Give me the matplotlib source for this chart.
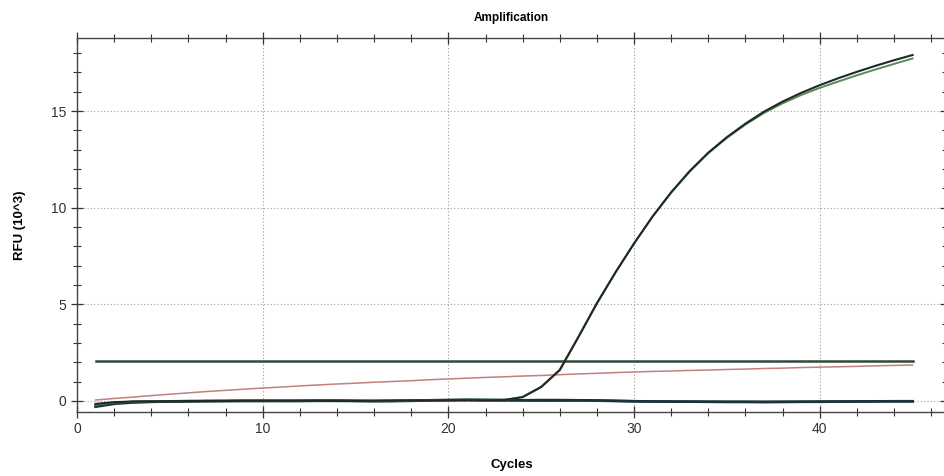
import matplotlib
matplotlib.use("Agg")
import matplotlib.pyplot as plt
from matplotlib.ticker import MultipleLocator

plt.rcParams['font.family'] = ['Liberation Sans', 'DejaVu Sans']

# dati (RFU in migliaia)
cicli = list(range(1, 46))

campione_a = [-0.15, -0.06, -0.03, -0.02, -0.01, 0.0, 0.0, 0.0, 0.01, 0.01,
              0.01, 0.01, 0.01, 0.0, 0.0, 0.01, 0.02, 0.03, 0.03, 0.04,
              0.04, 0.03, 0.05, 0.2, 0.72, 1.6, 3.3, 5.05, 6.65, 8.15,
              9.55, 10.8, 11.9, 12.85, 13.65, 14.35, 14.97, 15.49, 15.94, 16.34,
              16.7, 17.03, 17.34, 17.63, 17.9]
campione_b = [-0.2, -0.08, -0.04, -0.02, -0.01, 0.0, 0.0, 0.0, 0.01, 0.01,
              0.01, 0.01, 0.01, 0.0, 0.0, 0.01, 0.02, 0.03, 0.03, 0.04,
              0.04, 0.03, 0.05, 0.21, 0.74, 1.62, 3.32, 5.07, 6.66, 8.15,
              9.54, 10.78, 11.87, 12.82, 13.61, 14.3, 14.9, 15.4, 15.83, 16.2,
              16.53, 16.85, 17.15, 17.44, 17.72]
negativo_1 = [-0.3, -0.15, -0.08, -0.05, -0.03, -0.02, -0.01, 0.0, 0.0, 0.0,
              0.01, 0.01, 0.02, 0.02, 0.01, 0.0, 0.0, 0.02, 0.04, 0.05,
              0.05, 0.04, 0.03, 0.04, 0.05, 0.05, 0.04, 0.03, 0.01, -0.01,
              -0.02, -0.03, -0.04, -0.04, -0.05, -0.05, -0.05, -0.04, -0.04, -0.03,
              -0.03, -0.02, -0.02, -0.01, -0.01]
negativo_2 = [-0.22, -0.1, -0.05, -0.03, -0.02, -0.01, 0.0, 0.0, 0.01, 0.01,
              0.0, 0.0, 0.01, 0.01, 0.0, -0.01, 0.0, 0.01, 0.03, 0.04,
              0.06, 0.06, 0.05, 0.03, 0.02, 0.02, 0.03, 0.02, 0.0, -0.02,
              -0.03, -0.03, -0.03, -0.04, -0.04, -0.04, -0.05, -0.05, -0.04, -0.04,
              -0.03, -0.03, -0.02, -0.02, -0.02]
deriva = [0.05, 0.13, 0.2, 0.28, 0.35, 0.42, 0.49, 0.55, 0.61, 0.67,
          0.72, 0.78, 0.83, 0.88, 0.92, 0.97, 1.01, 1.05, 1.1, 1.14,
          1.18, 1.22, 1.25, 1.29, 1.32, 1.36, 1.4, 1.43, 1.47, 1.5,
          1.53, 1.55, 1.58, 1.6, 1.63, 1.65, 1.68, 1.7, 1.73, 1.75,
          1.77, 1.79, 1.82, 1.84, 1.86]
soglia = 2.05

fig = plt.figure(figsize=(9.45, 4.76), dpi=100)
ax = fig.add_axes([77 / 945, 1 - 412 / 476, 869 / 945, 374 / 476])

ax.plot(cicli, deriva, color='#c47f7f', lw=1.1, zorder=3)
ax.plot(cicli, negativo_2, color='#2a4c50', lw=2.0, zorder=3)
ax.plot(cicli, negativo_1, color='#1c3238', lw=1.8, zorder=3)
ax.plot([cicli[0], cicli[-1]], [soglia, soglia], color='#2f4a38', lw=1.8, zorder=4)
ax.plot(cicli, campione_b, color='#5a8a5a', lw=1.4, zorder=4, solid_joinstyle='round')
ax.plot(cicli, campione_a, color='#1e2a22', lw=1.5, zorder=5, solid_joinstyle='round')

ax.set_xlim(0, 46.8)
ax.set_ylim(-0.57, 18.78)
ax.xaxis.set_major_locator(MultipleLocator(10))
ax.xaxis.set_minor_locator(MultipleLocator(2))
ax.yaxis.set_major_locator(MultipleLocator(5))
ax.yaxis.set_minor_locator(MultipleLocator(1))
ax.tick_params(which='both', direction='inout', top=True, right=True,
               color='#333333', labelsize=10, labelcolor='#333333')
ax.tick_params(which='major', length=8, width=0.9)
ax.tick_params(which='minor', length=6, width=0.8)
for s in ax.spines.values():
    s.set_color('#444444')
    s.set_linewidth(1.0)
ax.grid(True, which='major', linestyle=(0, (1, 2)), color='#9a9a9a', lw=0.8)

ax.set_title('Amplification', fontsize=8.5, fontweight='bold', pad=12)
ax.set_xlabel('Cycles', fontsize=9.5, fontweight='bold', labelpad=16)
ax.set_ylabel('RFU (10^3)', fontsize=9.5, fontweight='bold', labelpad=18)

fig.savefig('out.png', dpi=100)
